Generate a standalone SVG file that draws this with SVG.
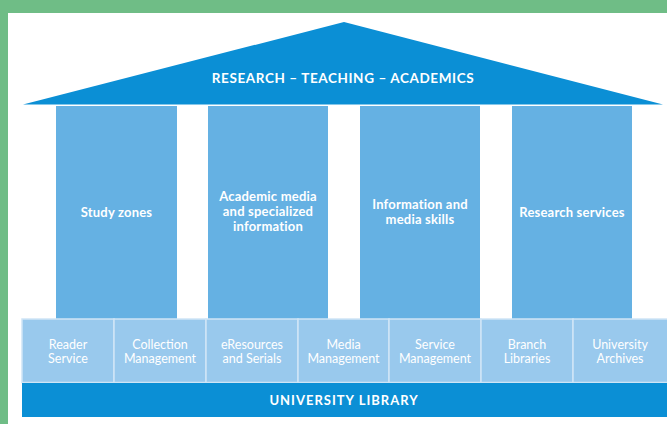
<svg xmlns="http://www.w3.org/2000/svg" width="667" height="424" viewBox="0 0 667 424">
  <style>
    .roof { fill: #0b8fd5; }
    .pillar { fill: #65b1e3; }
    .unit { fill: #99c9ed; stroke: #cfe5f6; stroke-width: 1.5; }
    .base { fill: #0b8fd5; }
    .cap { font-family: Lato, "Open Sans", sans-serif; font-weight: 700; fill: #ffffff; text-anchor: middle; }
    .lbl { font-family: Lato, "Open Sans", sans-serif; font-weight: 400; font-size: 12.5px; fill: #ffffff; text-anchor: middle; }
    .head { font-size: 13.5px; letter-spacing: 0.6px; }
    .col { font-size: 13px; letter-spacing: 0.2px; }
  </style>

  <!-- frame -->
  <rect x="0" y="0" width="667" height="424" fill="#6fbd86"/>
  <rect x="8" y="13" width="659" height="411" fill="#ffffff"/>

  <!-- roof -->
  <g id="roof">
    <polygon class="roof" points="344,22 663,104.5 23,104.5"/>
    <text class="cap head" x="343" y="83">RESEARCH – TEACHING – ACADEMICS</text>
  </g>

  <!-- pillars -->
  <g id="pillar-study-zones">
    <rect class="pillar" x="56" y="106" width="121" height="213"/>
    <text class="cap col" x="116.5" y="217">Study zones</text>
  </g>
  <g id="pillar-academic-media">
    <rect class="pillar" x="208" y="106" width="120" height="213"/>
    <text class="cap col" y="201"><tspan x="268">Academic media</tspan><tspan x="268" dy="15">and specialized</tspan><tspan x="268" dy="15">information</tspan></text>
  </g>
  <g id="pillar-information-skills">
    <rect class="pillar" x="360" y="106" width="120" height="213"/>
    <text class="cap col" y="208.5"><tspan x="420">Information and</tspan><tspan x="420" dy="15">media skills</tspan></text>
  </g>
  <g id="pillar-research-services">
    <rect class="pillar" x="512" y="106" width="120" height="213"/>
    <text class="cap col" x="572" y="217">Research services</text>
  </g>

  <!-- departments -->
  <g id="unit-reader-service">
    <rect class="unit" x="22" y="319" width="92" height="63.5"/>
    <text class="lbl" y="349"><tspan x="68">Reader</tspan><tspan x="68" dy="13.5">Service</tspan></text>
  </g>
  <g id="unit-collection-management">
    <rect class="unit" x="114" y="319" width="92" height="63.5"/>
    <text class="lbl" y="349"><tspan x="160">Collection</tspan><tspan x="160" dy="13.5">Management</tspan></text>
  </g>
  <g id="unit-eresources">
    <rect class="unit" x="206" y="319" width="92" height="63.5"/>
    <text class="lbl" y="349"><tspan x="252">eResources</tspan><tspan x="252" dy="13.5">and Serials</tspan></text>
  </g>
  <g id="unit-media-management">
    <rect class="unit" x="298" y="319" width="91" height="63.5"/>
    <text class="lbl" y="349"><tspan x="343.5">Media</tspan><tspan x="343.5" dy="13.5">Management</tspan></text>
  </g>
  <g id="unit-service-management">
    <rect class="unit" x="389" y="319" width="92" height="63.5"/>
    <text class="lbl" y="349"><tspan x="435">Service</tspan><tspan x="435" dy="13.5">Management</tspan></text>
  </g>
  <g id="unit-branch-libraries">
    <rect class="unit" x="481" y="319" width="92" height="63.5"/>
    <text class="lbl" y="349"><tspan x="527">Branch</tspan><tspan x="527" dy="13.5">Libraries</tspan></text>
  </g>
  <g id="unit-university-archives">
    <rect class="unit" x="573" y="319" width="95" height="63.5"/>
    <text class="lbl" y="349"><tspan x="620">University</tspan><tspan x="620" dy="13.5">Archives</tspan></text>
  </g>

  <!-- foundation -->
  <g id="foundation">
    <rect class="base" x="22" y="383" width="645" height="34"/>
    <text class="cap head" x="344" y="405" style="font-size:13px;letter-spacing:1px">UNIVERSITY LIBRARY</text>
  </g>

  <g id="connectors"/>
</svg>
